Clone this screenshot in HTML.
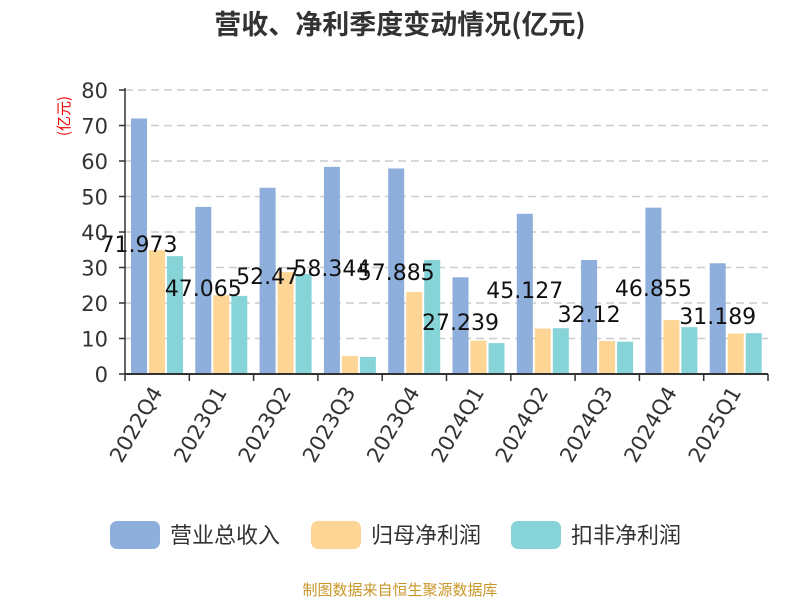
<!DOCTYPE html>
<html><head><meta charset="utf-8"><style>
body{margin:0;background:#fff;}
svg{display:block;font-family:"DejaVu Sans","Noto Sans CJK SC",sans-serif;}
</style></head><body>
<svg width="800" height="600" viewBox="0 0 800 600" id="chart">
<text x="400" y="34" text-anchor="middle" font-size="27" font-weight="bold" fill="#333" font-family="Noto Sans CJK SC, sans-serif">营收、净利季度变动情况(亿元)</text>
<text transform="translate(69,116) rotate(-90)" text-anchor="middle" font-size="15" fill="#e00" font-family="Noto Sans CJK SC, sans-serif">(亿元)</text>
<g id="grid"></g><g id="bars"></g><g id="labels"></g><g id="axes"></g>
<g font-family="Noto Sans CJK SC, sans-serif">
<rect x="110" y="521" width="50" height="28" rx="7" fill="#8eaedb"/>
<text x="170" y="543" font-size="22" fill="#333">营业总收入</text>
<rect x="311" y="521" width="50" height="28" rx="7" fill="#fdd696"/>
<text x="371" y="543" font-size="22" fill="#333">归母净利润</text>
<rect x="511" y="521" width="50" height="28" rx="7" fill="#86d4d8"/>
<text x="571" y="543" font-size="22" fill="#333">扣非净利润</text>
</g>
<text x="400" y="595" text-anchor="middle" font-size="15" fill="#c9962a" font-family="Noto Sans CJK SC, sans-serif">制图数据来自恒生聚源数据库</text>
</svg>
<script>
const categories=["2022Q4","2023Q1","2023Q2","2023Q3","2023Q4","2024Q1","2024Q2","2024Q3","2024Q4","2025Q1"];
const revenue=[71.973,47.065,52.47,58.344,57.885,27.239,45.127,32.12,46.855,31.189];
const revenueLabels=["71.973","47.065","52.47","58.344","57.885","27.239","45.127","32.12","46.855","31.189"];
const netProfit=[34.9,22.2,28.7,5.1,23.1,9.4,12.8,9.3,15.2,11.4];
const deductedProfit=[33.2,22.0,28.2,4.8,32.1,8.7,12.9,9.1,13.2,11.5];
const labelLevel=[36.6,24.2,27.6,29.9,28.7,14.6,23.7,16.9,24.2,16.3];
const yTicks=[0,10,20,30,40,50,60,70,80];
const NS="http://www.w3.org/2000/svg";
const x0=125,x1=768,y0=374,y80=90;
const bw=(x1-x0)/categories.length;
function y(v){return y0-(v/80)*(y0-y80);}
function mk(t,a,p){const e=document.createElementNS(NS,t);for(const k in a)e.setAttribute(k,a[k]);p.appendChild(e);return e;}
const grid=document.getElementById('grid'),bars=document.getElementById('bars'),labels=document.getElementById('labels'),axes=document.getElementById('axes');
yTicks.forEach(t=>{
 if(t>0){const g=mk('line',{x1:x0,x2:x1,y1:y(t),y2:y(t),stroke:'#ccc','stroke-dasharray':'8,5','stroke-width':1.5},grid);
 
 }
 const tl=mk('text',{x:x0-17,y:y(t)+8,'text-anchor':'end','font-size':21,fill:'#333'},axes);
 tl.textContent=t;
 
 
 mk('line',{x1:x0-6,x2:x0,y1:y(t),y2:y(t),stroke:'#333','stroke-width':1.5},axes);
});
const series=[[revenue,'#8eaedb','bar-revenue'],[netProfit,'#fdd696','bar-net-profit'],[deductedProfit,'#86d4d8','bar-deducted-profit']];
categories.forEach((c,i)=>{
 const gx=x0+i*bw;
 series.forEach((s,j)=>{
  const v=s[0][i];
  const r=mk('rect',{x:gx+6+j*18,y:y(v),width:16,height:y0-y(v),fill:s[1]},bars);
  
  
 });
 const lt=mk('text',{x:gx+14,y:y(labelLevel[i])+8,'text-anchor':'middle','font-size':22,fill:'#111'},labels);
 lt.textContent=revenueLabels[i];
 
 
 mk('line',{x1:gx,x2:gx,y1:y0,y2:y0+7,stroke:'#333','stroke-width':1.5},axes);
 const cx=gx+bw/2;
 const xl=mk('text',{x:cx+6,y:y0+18,'text-anchor':'end','font-size':21,fill:'#333',transform:'rotate(-60 '+(cx+6)+' '+(y0+18)+')'},axes);
 xl.textContent=c;
 
 
});
mk('line',{x1:x1,x2:x1,y1:y0,y2:y0+7,stroke:'#333','stroke-width':1.5},axes);
const ya=mk('line',{x1:x0,x2:x0,y1:y80-2,y2:y0,stroke:'#333','stroke-width':1.5},axes);


const xa=mk('line',{x1:x0,x2:x1,y1:y0,y2:y0,stroke:'#333','stroke-width':2},axes);


</script>
</body></html>
